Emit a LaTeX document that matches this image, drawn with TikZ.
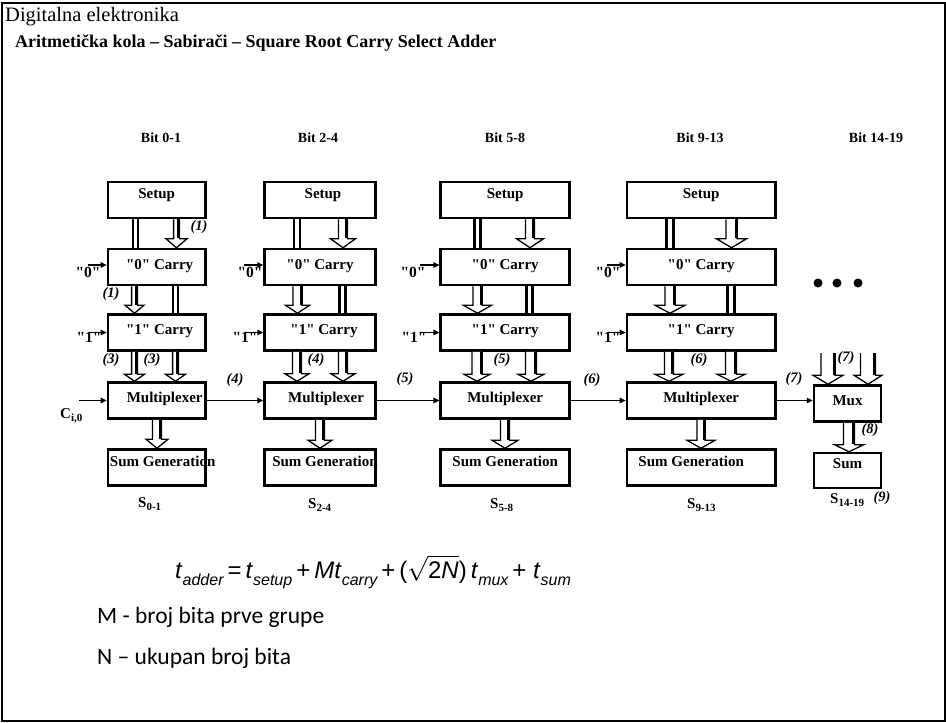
\documentclass[tikz,border=0pt]{standalone}
\usepackage{fontspec}
\setmainfont{Liberation Serif}
\newfontfamily\arialf{Liberation Sans}
\newfontfamily\calf{Carlito}
\usetikzlibrary{arrows.meta,calc}
\newcommand\bt{\fontsize{15}{15}\selectfont\bfseries}
\newcommand\q{\textquotedbl}
\newcommand\harrow[6]{%
 \draw[hol] let \p1=(#1,0 |- #2), \p2=(#1,0 |- #3) in
  (\x1-#4pt,\y1) -- (\x1-#4pt,\y2+#6pt) -- (\x1-#5pt,\y2+#6pt) -- (\x1,\y2) -- (\x1+#5pt,\y2+#6pt) -- (\x1+#4pt,\y2+#6pt) -- (\x1+#4pt,\y1);
 \draw[thk] let \p1=(#1,0 |- #2), \p2=(#1,0 |- #3) in
  (\x1+#4pt-0.85pt,\y1) -- (\x1+#4pt-0.85pt,\y2+#6pt+0.65pt);
}
\newcommand\dline[4]{%
 \draw[dl] let \p1=(#1,0 |- #2), \p2=(#1,0 |- #3) in
  (\x1-#4pt,\y1) -- (\x1-#4pt,\y2) (\x1+#4pt,\y1) -- (\x1+#4pt,\y2);
}
\newcommand\fsub[1]{\raisebox{-0.3em}{\fontsize{16}{16}\selectfont\itshape #1}}
\newcommand\ssub[1]{\raisebox{-3pt}{\fontsize{11}{11}\selectfont\bfseries #1}}
\begin{document}
\begin{tikzpicture}[x=1pt,y=-1pt,
  box/.style={draw, line width=2.5pt, minimum height=36pt, inner sep=0pt, font=\bt, text height=10.5pt, text depth=6pt},
  toplbl/.style={font=\bt, anchor=north, inner sep=0pt, yshift=-7.5pt},
  hol/.style={draw, line width=1.3pt, fill=white, line join=miter},
  thk/.style={line width=3pt},
  dl/.style={line width=2.5pt},
  carr/.style={line width=1.4pt, -{Triangle[length=6pt,width=5.5pt]}},
  num/.style={font=\fontsize{14.5}{14.5}\selectfont\bfseries\itshape, inner sep=0pt},
  inl/.style={font=\fontsize{15.5}{15.5}\selectfont\bfseries, inner sep=0pt},
  bitl/.style={font=\fontsize{14}{14}\selectfont\bfseries, inner sep=0pt},
  sl/.style={font=\fontsize{15}{15}\selectfont\bfseries, inner sep=0pt, anchor=base west}]
\useasboundingbox (0,0) rectangle (946,723);
\draw[line width=2pt] (1.5,3) rectangle (944.5,721);
% titles
\node[anchor=west, inner sep=0pt, font=\fontsize{20.5}{20.5}\selectfont] (h1) at (5,17) {Digitalna elektronika};
\node[anchor=west, inner sep=0pt, font=\fontsize{18}{18}\selectfont\bfseries] (h2) at (15,43) {Aritmetička kola – Sabirači – Square Root Carry Select Adder};
% bit labels
\node[bitl] (b1) at (161,138) {Bit 0-1};
\node[bitl] (b2) at (318,138) {Bit 2-4};
\node[bitl] (b3) at (505,138) {Bit 5-8};
\node[bitl] (b4) at (700,138) {Bit 9-13};
\node[bitl] (b5) at (876,138) {Bit 14-19};
% column 1
\node[box,minimum width=97.5pt,label={[toplbl]north:Setup}] (s1) at (156.7,200) {};
\node[box,minimum width=97.5pt] (z1) at (156.7,267) {\hspace*{6pt}\q0\q{} Carry};
\node[box,minimum width=97.5pt] (o1) at (156.7,332.5) {\hspace*{6pt}\q1\q{} Carry};
\node[box,minimum width=97.5pt] (m1) at (156.7,400.5) {\hspace*{16pt}Multiplexer};
\node[box,minimum width=97.5pt,label={[toplbl,xshift=6pt]north:Sum Generation}] (g1) at (156.7,467.5) {};
% column 2
\node[box,minimum width=111pt,label={[toplbl,xshift=3pt]north:Setup}] (s2) at (320,200) {};
\node[box,minimum width=111pt] (z2) at (320,267) {\q0\q{} Carry};
\node[box,minimum width=111pt] (o2) at (320,332.5) {\hspace*{8pt}\q1\q{} Carry};
\node[box,minimum width=111pt] (m2) at (320,400.5) {\hspace*{12pt}Multiplexer};
\node[box,minimum width=111pt,label={[toplbl,xshift=5pt]north:Sum Generation}] (g2) at (320,467.5) {};
% column 3
\node[box,minimum width=129pt,label={[toplbl]north:Setup}] (s3) at (505.2,200) {};
\node[box,minimum width=129pt] (z3) at (505.2,267) {\q0\q{} Carry};
\node[box,minimum width=129pt] (o3) at (505.2,332.5) {\q1\q{} Carry};
\node[box,minimum width=129pt] (m3) at (505.2,400.5) {Multiplexer};
\node[box,minimum width=129pt,label={[toplbl]north:Sum Generation}] (g3) at (505.2,467.5) {};
% column 4
\node[box,minimum width=148.5pt,label={[toplbl]north:Setup}] (s4) at (701.2,200) {};
\node[box,minimum width=148.5pt] (z4) at (701.2,267) {\q0\q{} Carry};
\node[box,minimum width=148.5pt] (o4) at (701.2,332.5) {\q1\q{} Carry};
\node[box,minimum width=148.5pt] (m4) at (701.2,400.5) {Multiplexer};
\node[box,minimum width=148.5pt,label={[toplbl,xshift=-10pt]north:Sum Generation}] (g4) at (701.2,467.5) {};
% column 5
\node[box,minimum width=67pt] (m5) at (847.5,403.5) {Mux};
\node[box,minimum width=67pt,minimum height=35pt,label={[toplbl,yshift=1pt]north:Sum}] (g5) at (847.5,470.5) {};
\fill (818,283) circle (4.5pt) (837,283) circle (4.5pt) (858,283) circle (4.5pt);
% vertical connectors column 1
\dline{135.5}{s1.south}{z1.north}{2.6}
\harrow{176.5}{s1.south}{z1.north}{2.9}{10.5}{9}
\harrow{134.5}{z1.south}{o1.north}{2.9}{9.5}{8}
\dline{175.5}{z1.south}{o1.north}{2.3}
\harrow{134.5}{o1.south}{m1.north}{2.9}{10}{7}
\harrow{175.5}{o1.south}{m1.north}{2.9}{10}{7}
\harrow{157}{m1.south}{g1.north}{4.5}{11}{9}
% column 2
\dline{297}{s2.south}{z2.north}{3}
\harrow{343}{s2.south}{z2.north}{4.5}{12.5}{9}
\harrow{297.5}{z2.south}{o2.north}{4.5}{12}{8}
\dline{342.5}{z2.south}{o2.north}{3}
\harrow{297}{o2.south}{m2.north}{4.5}{12}{7.5}
\harrow{343}{o2.south}{m2.north}{4.5}{12}{7.5}
\harrow{320}{m2.south}{g2.north}{4.5}{12}{8}
% column 3
\dline{477.5}{s3.south}{z3.north}{3.2}
\harrow{530}{s3.south}{z3.north}{4.5}{13.5}{9}
\harrow{477.5}{z3.south}{o3.north}{4.5}{14}{8}
\dline{529.5}{z3.south}{o3.north}{3.2}
\harrow{477}{o3.south}{m3.north}{5}{13}{7}
\harrow{531}{o3.south}{m3.north}{5.5}{13}{7}
\harrow{505}{m3.south}{g3.north}{4.5}{13}{8}
% column 4
\dline{670}{s4.south}{z4.north}{3.5}
\harrow{731.5}{s4.south}{z4.north}{5.5}{15}{9}
\harrow{670}{z4.south}{o4.north}{5}{15}{8}
\dline{731}{z4.south}{o4.north}{3.5}
\harrow{669}{o4.south}{m4.north}{4.5}{14}{7}
\harrow{731}{o4.south}{m4.north}{5.5}{14}{7}
\harrow{701}{m4.south}{g4.north}{4}{14}{8}
% column 5
\coordinate (t5a) at (828,353);
\coordinate (t5b) at (868,353);
\harrow{828}{t5a}{m5.north}{7}{15}{9}
\harrow{868}{t5b}{m5.north}{7.5}{14}{9}
\harrow{849}{m5.south}{g5.north}{5.5}{14.5}{7}
% carry chain
\coordinate (cin) at (79,400.5);
\draw[carr] (cin) -- (m1.west);
\draw[carr] (m1.east) -- (m2.west);
\draw[carr] (m2.east) -- (m3.west);
\draw[carr] (m3.east) -- (m4.west);
\draw[carr] (m4.east) -- (m4.east -| m5.west);
% constant inputs
\foreach \n in {1,2,3,4}{
  \draw[carr] ([xshift=-19pt,yshift=2pt]z\n.west) -- ([yshift=2pt]z\n.west);
  \draw[carr] ([xshift=-19pt]o\n.west) -- (o\n.west);
}
\node[inl] (i01) at (88,272) {\q0\q};
\node[inl] (i02) at (250,272) {\q0\q};
\node[inl] (i03) at (413,272) {\q0\q};
\node[inl] (i04) at (608,272) {\q0\q};
\node[inl] (i11) at (89,337) {\q1\q};
\node[inl] (i12) at (245,337) {\q1\q};
\node[inl] (i13) at (414,337) {\q1\q};
\node[inl] (i14) at (608,337) {\q1\q};
% step numbers
\node[num] (n1) at (199,227) {(1)};
\node[num] (n2) at (111,294) {(1)};
\node[num] (n3) at (111,360) {(3)};
\node[num] (n4) at (152,360) {(3)};
\node[num] (n5) at (235,380) {(4)};
\node[num] (n6) at (316,360) {(4)};
\node[num] (n7) at (405,379) {(5)};
\node[num] (n8) at (502,360) {(5)};
\node[num] (n9) at (592,380) {(6)};
\node[num] (n10) at (699,360) {(6)};
\node[num] (n11) at (794,379) {(7)};
\node[num] (n12) at (846,358) {(7)};
\node[num] (n13) at (870,430) {(8)};
\node[num] (n14) at (882,498) {(9)};
% sum labels
\node[sl] (q1) at (138,507) {S\ssub{0-1}};
\node[sl] (q2) at (308,508) {S\ssub{2-4}};
\node[sl] (q3) at (490,508) {S\ssub{5-8}};
\node[sl] (q4) at (687,508) {S\ssub{9-13}};
\node[sl] (q5) at (830,503) {S\ssub{14-19}};
\node[sl] (ci) at (60,418) {C\ssub{i,0}};
% formula
\node[anchor=base west, inner sep=0pt, font=\arialf\fontsize{24}{24}\selectfont] (fm) at (175,578)
 {\textit{t}\fsub{adder}\,=\,\textit{t}\fsub{setup}\,+\,\textit{Mt}\fsub{carry}\,+\,($\sqrt{\hbox{2\textit{N}}}$)\,\textit{t}\fsub{mux}\,+\ \textit{t}\fsub{sum}};
% notes
\node[anchor=west, inner sep=0pt, font=\calf\fontsize{23.5}{23.5}\selectfont] (t1) at (97,617) {M - broj bita prve grupe};
\node[anchor=west, inner sep=0pt, font=\calf\fontsize{23.5}{23.5}\selectfont] (t2) at (97,658) {N – ukupan broj bita};
\end{tikzpicture}
\end{document}
